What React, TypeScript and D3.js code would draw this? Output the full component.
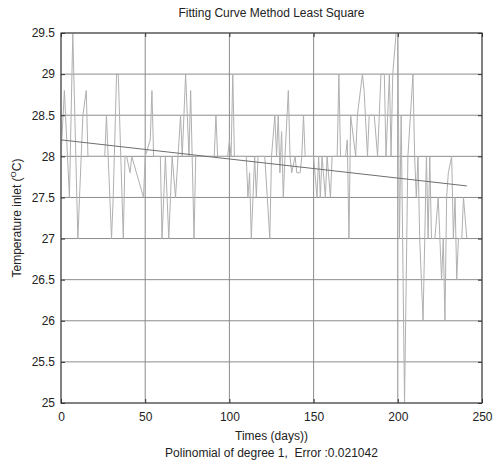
import React, { useEffect, useRef } from 'react';
import * as d3 from 'd3';

const days = [0, 2, 5, 7, 10, 13, 15, 16, 26, 27, 30, 31, 33, 34, 37, 38, 39, 41, 42, 49, 50, 53, 54, 55, 59, 60, 62, 64, 66, 68, 71, 72, 74, 76, 77, 79, 80, 91, 92, 93, 99, 100, 101, 102, 103, 110, 111, 112, 113, 115, 116, 117, 120, 121, 124, 125, 127, 128, 129, 130, 131, 132, 133, 135, 136, 137, 139, 140, 142, 143, 144, 145, 150, 152, 153, 154, 155, 157, 158, 160, 161, 164, 165, 166, 169, 170, 171, 172, 175, 176, 179, 180, 182, 183, 186, 188, 190, 192, 193, 195, 196, 197, 199, 200, 201, 202, 204, 206, 209, 210, 211, 212, 213, 215, 217, 218, 219, 220, 222, 224, 225, 226, 227, 228, 229, 230, 232, 233, 234, 235, 236, 238, 239, 241];
const temps = [28, 28.8, 27.5, 29.5, 27, 28.5, 28.8, 28, 28, 28.5, 27, 27.5, 29, 29, 27, 28, 28, 27.8, 28, 27.5, 28, 28.2, 28.8, 28, 28, 27, 28, 27, 28, 27.5, 28.5, 28, 29, 28, 28.8, 27, 28, 28, 28.5, 28, 28, 28.2, 28, 29, 28, 28, 27.5, 27.8, 27, 28, 27.5, 28, 28, 28, 27, 28, 28.5, 28, 28.5, 27.8, 28.3, 27.5, 28, 28.8, 28, 27.8, 28, 27.8, 27.8, 28, 28.5, 28, 28, 27.5, 28, 27.5, 28, 27.5, 28, 27.5, 28, 28, 29, 28, 28, 28.2, 27, 28.5, 28, 28.5, 29, 28.8, 28, 28.5, 28.5, 28, 29, 29, 28, 29, 28, 29, 29.5, 29.5, 27, 28.5, 25, 28, 29, 28, 27.5, 28, 27, 26, 28, 27, 28, 27, 27, 27.5, 27, 26.5, 27, 26, 27.5, 27.8, 28, 27, 27.5, 26.5, 27, 27, 27.5, 27];

// degree-1 least squares line endpoints
const fitDays = [0, 241];
const fitTemps = [28.2, 27.64];

const xTicks = [0, 50, 100, 150, 200, 250];
const yTicks = [25, 25.5, 26, 26.5, 27, 27.5, 28, 28.5, 29, 29.5];

const W = 495;
const H = 464;

export default function App() {
  const ref = useRef<SVGSVGElement>(null);

  useEffect(() => {
    const svg = d3.select(ref.current);
    svg.selectAll('*').remove();

    const margin = { top: 33, right: 13, bottom: 61, left: 61 };
    const x = d3.scaleLinear().domain([0, 250]).range([margin.left, W - margin.right]);
    const y = d3.scaleLinear().domain([25, 29.5]).range([H - margin.bottom, margin.top]);
    const font = 'Liberation Sans, Arial, sans-serif';

    svg.append('rect').attr('width', W).attr('height', H).attr('fill', '#fff');

    // grid
    svg.append('g').selectAll('line.h').data(yTicks).enter().append('line')
      .attr('x1', x(0)).attr('x2', x(250))
      .attr('y1', d => y(d)).attr('y2', d => y(d))
      .attr('stroke', '#8c8c8c').attr('stroke-width', 1);
    svg.append('g').selectAll('line.v').data(xTicks).enter().append('line')
      .attr('y1', y(25)).attr('y2', y(29.5))
      .attr('x1', d => x(d)).attr('x2', d => x(d))
      .attr('stroke', '#8c8c8c').attr('stroke-width', 1);

    // data
    const pts = days.map((d, i) => [d, temps[i]] as [number, number]);
    svg.append('path')
      .datum(pts)
      .attr('d', d3.line().x(d => x(d[0])).y(d => y(d[1])))
      .attr('fill', 'none').attr('stroke', '#b0b0b0').attr('stroke-width', 1);

    const fit = fitDays.map((d, i) => [d, fitTemps[i]] as [number, number]);
    svg.append('path')
      .datum(fit)
      .attr('d', d3.line().x(d => x(d[0])).y(d => y(d[1])))
      .attr('fill', 'none').attr('stroke', '#6e6e6e').attr('stroke-width', 1);

    // box
    svg.append('rect')
      .attr('x', x(0)).attr('y', y(29.5))
      .attr('width', x(250) - x(0)).attr('height', y(25) - y(29.5))
      .attr('fill', 'none').attr('stroke', '#555').attr('stroke-width', 1.2);

    // axes
    const xb = svg.append('g').attr('transform', `translate(0,${y(25)})`)
      .call(d3.axisBottom(x).tickValues(xTicks).tickSizeInner(-4).tickSizeOuter(0).tickPadding(7).tickFormat(d3.format('d')));
    const xt = svg.append('g').attr('transform', `translate(0,${y(29.5)})`)
      .call(d3.axisTop(x).tickValues(xTicks).tickSizeInner(-4).tickSizeOuter(0).tickFormat(() => ''));
    const yl = svg.append('g').attr('transform', `translate(${x(0)},0)`)
      .call(d3.axisLeft(y).tickValues(yTicks).tickSizeInner(-4).tickSizeOuter(0).tickPadding(6).tickFormat(d3.format('')));
    const yr = svg.append('g').attr('transform', `translate(${x(250)},0)`)
      .call(d3.axisRight(y).tickValues(yTicks).tickSizeInner(-4).tickSizeOuter(0).tickFormat(() => ''));
    [xb, xt, yl, yr].forEach(g => {
      g.select('.domain').remove();
      g.selectAll('line').attr('stroke', '#333');
      g.selectAll('text').attr('font-family', font).attr('font-size', 12).attr('fill', '#222');
    });
    xb.selectAll('text').attr('dy', '0.9em');

    svg.append('text').attr('x', (x(0) + x(250)) / 2).attr('y', 17)
      .attr('text-anchor', 'middle').attr('font-family', font).attr('font-size', 12).attr('fill', '#222')
      .text('Fitting Curve Method Least Square');
    svg.append('text').attr('x', (x(0) + x(250)) / 2).attr('y', 440)
      .attr('text-anchor', 'middle').attr('font-family', font).attr('font-size', 12).attr('fill', '#222')
      .text('Times (days))');
    svg.append('text').attr('x', (x(0) + x(250)) / 2).attr('y', 457)
      .attr('text-anchor', 'middle').attr('font-family', font).attr('font-size', 12).attr('fill', '#222')
      .style('white-space', 'pre')
      .text('Polinomial of degree 1,  Error :0.021042');

    const yt = svg.append('text')
      .attr('transform', `translate(21,${(y(25) + y(29.5)) / 2}) rotate(-90)`)
      .attr('text-anchor', 'middle').attr('font-family', font).attr('font-size', 12).attr('fill', '#222');
    yt.append('tspan').text('Temperature inlet (');
    yt.append('tspan').attr('font-size', 8).attr('dy', -5).text('O');
    yt.append('tspan').attr('dy', 5).text('C)');
  }, []);

  return (
    <svg ref={ref} width={W} height={H} style={{ position: 'absolute', left: 0, top: 0 }} />
  );
}
